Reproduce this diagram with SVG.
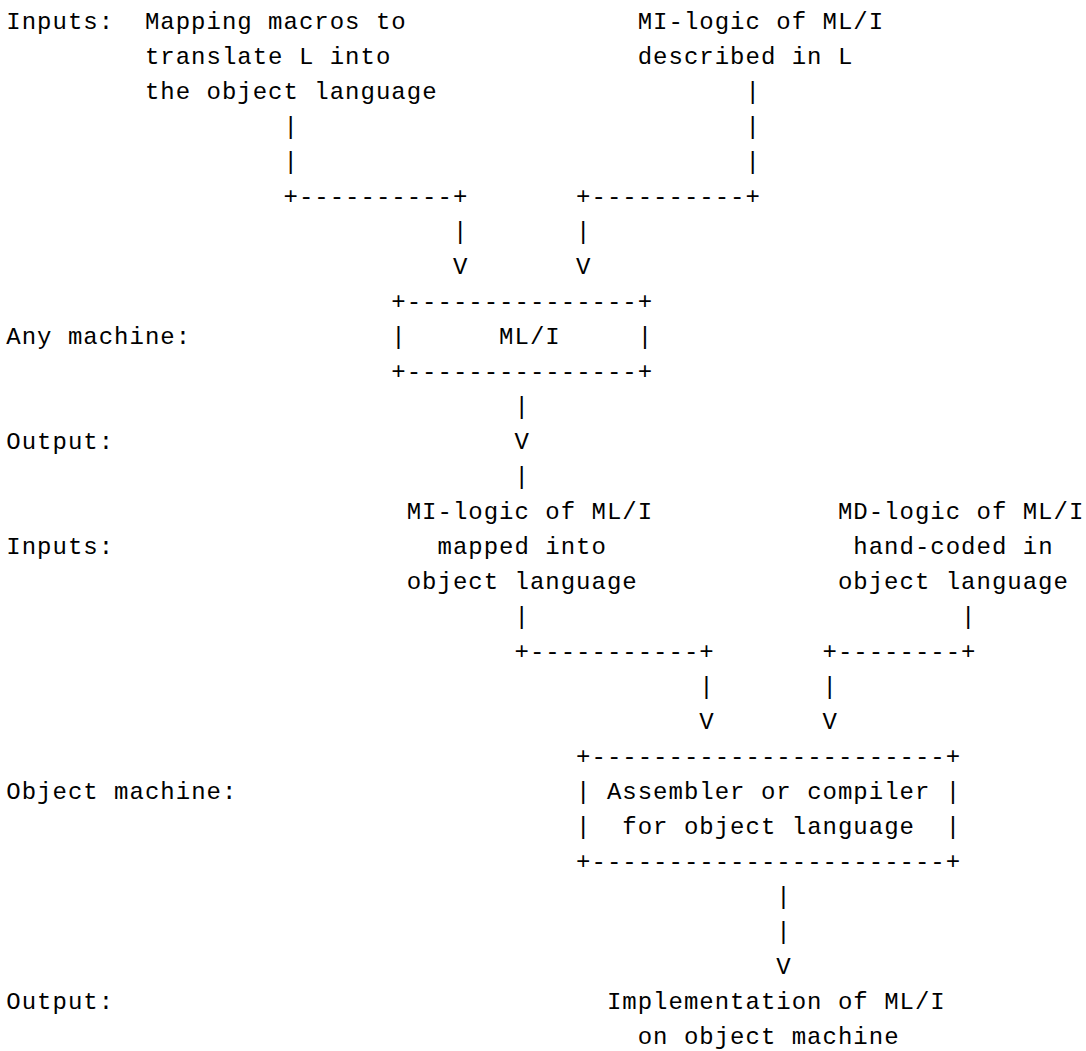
<svg xmlns="http://www.w3.org/2000/svg" width="1086" height="1051" viewBox="0 0 1086 1051">
<style>
text { font-family: "Liberation Mono", "DejaVu Sans Mono", monospace; font-size: 24px; letter-spacing: 1px; fill: #000; white-space: pre; }
</style>
<rect width="1086" height="1051" fill="#fff"/>
<g id="row-labels">
<text x="6.3" y="29">Inputs:</text>
<text x="6.3" y="344">Any machine:</text>
<text x="6.3" y="449">Output:</text>
<text x="6.3" y="554">Inputs:</text>
<text x="6.3" y="799">Object machine:</text>
<text x="6.3" y="1009">Output:</text>
</g>
<g id="input-mapping-macros">
<text x="144.9" y="29">Mapping macros to</text>
<text x="144.9" y="64">translate L into</text>
<text x="144.9" y="99">the object language</text>
</g>
<g id="input-mi-logic-L">
<text x="637.7" y="29">MI-logic of ML/I</text>
<text x="637.7" y="64">described in L</text>
</g>
<g id="node-mli">
<text x="391.3" y="309">+---------------+</text>
<text x="391.3" y="344" xml:space="preserve">|      ML/I     |</text>
<text x="391.3" y="379">+---------------+</text>
</g>
<g id="output-mi-logic-mapped">
<text x="406.7" y="519">MI-logic of ML/I</text>
<text x="437.5" y="554">mapped into</text>
<text x="406.7" y="589">object language</text>
</g>
<g id="input-md-logic">
<text x="837.9" y="519">MD-logic of ML/I</text>
<text x="853.3" y="554">hand-coded in</text>
<text x="837.9" y="589">object language</text>
</g>
<g id="node-assembler">
<text x="576.1" y="764">+-----------------------+</text>
<text x="576.1" y="799" xml:space="preserve">| Assembler or compiler |</text>
<text x="576.1" y="834" xml:space="preserve">|  for object language  |</text>
<text x="576.1" y="869">+-----------------------+</text>
</g>
<g id="output-implementation">
<text x="606.9" y="1009">Implementation of ML/I</text>
<text x="637.7" y="1044">on object machine</text>
</g>
<g id="connectors">
<text x="745.5" y="99">|</text>
<text x="283.5" y="134">|</text>
<text x="745.5" y="134">|</text>
<text x="283.5" y="169">|</text>
<text x="745.5" y="169">|</text>
<text x="283.5" y="204">+----------+</text>
<text x="576.1" y="204">+----------+</text>
<text x="452.9" y="239">|</text>
<text x="576.1" y="239">|</text>
<text x="452.9" y="274">V</text>
<text x="576.1" y="274">V</text>
<text x="514.5" y="414">|</text>
<text x="514.5" y="449">V</text>
<text x="514.5" y="484">|</text>
<text x="514.5" y="624">|</text>
<text x="961.1" y="624">|</text>
<text x="514.5" y="659">+-----------+</text>
<text x="822.5" y="659">+--------+</text>
<text x="699.3" y="694">|</text>
<text x="822.5" y="694">|</text>
<text x="699.3" y="729">V</text>
<text x="822.5" y="729">V</text>
<text x="776.3" y="904">|</text>
<text x="776.3" y="939">|</text>
<text x="776.3" y="974">V</text>
</g>
</svg>
